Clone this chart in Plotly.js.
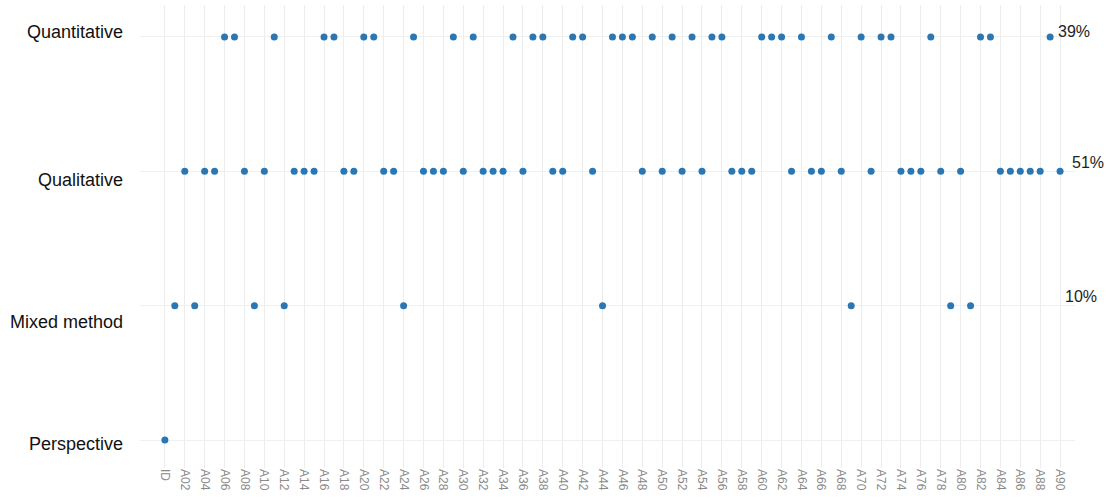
<!DOCTYPE html>
<html>
<head>
<meta charset="utf-8">
<script src="https://cdn.plot.ly/plotly-3.0.1.min.js"></script>
<style>html,body{margin:0;padding:0;background:#fff;}#chart{width:1107px;height:502px;}</style>
</head>
<body>
<div id="chart"></div>
<script>
// Categories on the x axis: ID, A01 ... A90
const studyIds = ["ID"].concat(Array.from({length: 90}, (_, i) => "A" + String(i + 1).padStart(2, "0")));
const tickLabels = studyIds.filter((_, i) => i % 2 === 0);

// Study design categories (bottom to top)
const designs = ["Perspective", "Mixed method", "Qualitative", "Quantitative"];

// Studies per design
const quantitative = ["A06","A07","A11","A16","A17","A20","A21","A25","A29","A31","A35","A37","A38","A41","A42","A45","A46","A47","A49","A51","A53","A55","A56","A60","A61","A62","A64","A67","A70","A72","A73","A77","A82","A83","A89"];
const qualitative = ["A02","A04","A05","A08","A10","A13","A14","A15","A18","A19","A22","A23","A26","A27","A28","A30","A32","A33","A34","A36","A39","A40","A43","A48","A50","A52","A54","A57","A58","A59","A63","A65","A66","A68","A71","A74","A75","A76","A78","A80","A84","A85","A86","A87","A88","A90"];
const mixedMethod = ["A01","A03","A09","A12","A24","A44","A69","A79","A81"];
const perspective = ["ID"];

// Share labels shown at the right
const shareDesigns = ["Quantitative", "Qualitative", "Mixed method"];
const shareLabels = ["39%", "51%", "10%"];

const groups = [
  ["Quantitative", quantitative],
  ["Qualitative", qualitative],
  ["Mixed method", mixedMethod],
  ["Perspective", perspective]
];

const traces = groups.map(([name, ids]) => ({
  type: "scatter",
  mode: "markers",
  name: name,
  x: ids,
  y: ids.map(() => name),
  marker: {color: "#2a77b4", size: 7},
  cliponaxis: false,
  hoverinfo: "x+y"
}));

const FONT = "Liberation Sans, Arial, sans-serif";

// placement of the share labels (paper x, vertical shift in px)
const sharePlace = {
  "Quantitative": {x: 0.999, yshift: 5},
  "Qualitative": {x: 1.014, yshift: 9},
  "Mixed method": {x: 1.006, yshift: 9}
};
// vertical shift of the row labels, as in the reference
const rowShift = {"Quantitative": 5, "Qualitative": -9, "Mixed method": -16, "Perspective": -4};

const annotations = shareDesigns.map((d, i) => ({
  xref: "paper", yref: "y",
  x: sharePlace[d].x, xanchor: "center",
  y: d, yshift: sharePlace[d].yshift,
  text: shareLabels[i],
  showarrow: false,
  font: {family: FONT, size: 16, color: "#222"}
})).concat(designs.map(d => ({
  xref: "paper", yref: "y",
  x: -0.016, xanchor: "right",
  y: d, yshift: rowShift[d],
  text: d,
  showarrow: false,
  font: {family: FONT, size: 18, color: "#111"}
})));

const layout = {
  width: 1107, height: 502,
  margin: {l: 140, r: 32, t: 5, b: 34},
  paper_bgcolor: "#ffffff",
  plot_bgcolor: "#ffffff",
  showlegend: false,
  font: {family: FONT},
  xaxis: {
    type: "category",
    categoryorder: "array",
    categoryarray: studyIds,
    range: [-2.5, 91.5],
    tickmode: "array",
    tickvals: tickLabels,
    ticktext: tickLabels,
    tickangle: 90,
    tickfont: {size: 12, color: "#8a8a8a"},
    showgrid: true,
    gridcolor: "#ececec",
    gridwidth: 1,
    zeroline: false,
    showline: false,
    ticks: ""
  },
  yaxis: {
    type: "category",
    categoryorder: "array",
    categoryarray: designs,
    range: [-0.208, 3.238],
    showticklabels: false,
    showgrid: true,
    gridcolor: "#f0f0f0",
    gridwidth: 1,
    zeroline: false,
    showline: false,
    ticks: ""
  },
  annotations: annotations
};

Plotly.newPlot("chart", traces, layout, {displayModeBar: false, staticPlot: true});
</script>
</body>
</html>
